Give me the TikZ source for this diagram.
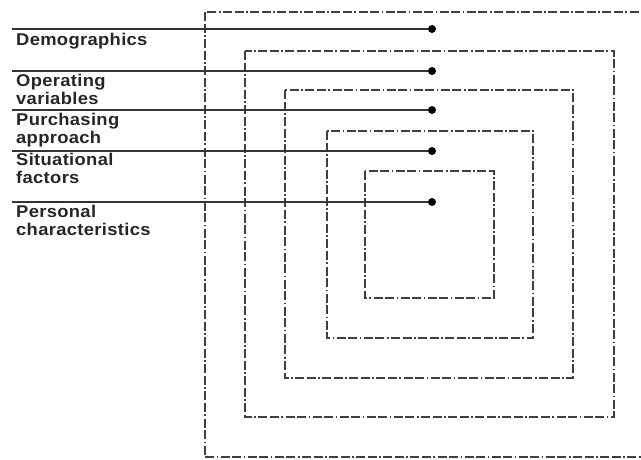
\documentclass[tikz,border=0pt]{standalone}
\usepackage{fontspec}
\setmainfont{Liberation Sans}
\newfontfamily\labelfont[FakeStretch=1.08, LetterSpace=2]{Liberation Sans}
\usetikzlibrary{positioning}

\tikzset{
  frame/.style={black!75, line width=1.2pt, dash pattern=on 9pt off 2.5pt on 9pt off 2.5pt on 1.6pt off 2.5pt},
  pointer/.style={black!80, line width=1.4pt},
  knob/.style={circle, fill=black, inner sep=0pt, minimum size=8pt},
  lbl/.style={font=\labelfont\fontsize{17pt}{18pt}\selectfont\bfseries, align=left, inner sep=0pt, text=black!85}
}

\begin{document}
\begin{tikzpicture}[x=1pt, y=-1pt]

    \useasboundingbox (0,0) rectangle (641,459);
    \clip (0,0) rectangle (641,459);

% quadrados tracejados
\draw[frame] (205,12) rectangle (660,457);
\draw[frame] (245,51) rectangle (614,417);
\draw[frame] (285,90) rectangle (573,378);
\draw[frame] (327,131) rectangle (533,338);
\draw[frame] (365,171) rectangle (494,298);

% pontos
\node[knob] (dot-demo) at (432,29) {};
\node[knob] (dot-oper) at (432,71) {};
\node[knob] (dot-purch) at (432,110) {};
\node[knob] (dot-sit) at (432,151) {};
\node[knob] (dot-pers) at (432,202) {};

    \coordinate (start-demo) at (12,29);
    \coordinate (start-oper) at (12,71);
    \coordinate (start-purch) at (12,110);
    \coordinate (start-sit) at (12,151);
    \coordinate (start-pers) at (12,202);

% linhas
\draw[pointer] (start-demo) -- (dot-demo);
\draw[pointer] (start-oper) -- (dot-oper);
\draw[pointer] (start-purch) -- (dot-purch);
\draw[pointer] (start-sit) -- (dot-sit);
\draw[pointer] (start-pers) -- (dot-pers);

% textos
\node[lbl, anchor=north west] (demo) at (16,33) {Demographics};
\node[lbl, anchor=north west] (oper) at (16,74) {Operating\\variables};
\node[lbl, anchor=north west] (purch) at (16,113) {Purchasing\\approach};
\node[lbl, anchor=north west] (sit) at (16,153) {Situational\\factors};
\node[lbl, anchor=north west] (pers) at (16,205) {Personal\\characteristics};

  \end{tikzpicture}
\end{document}
